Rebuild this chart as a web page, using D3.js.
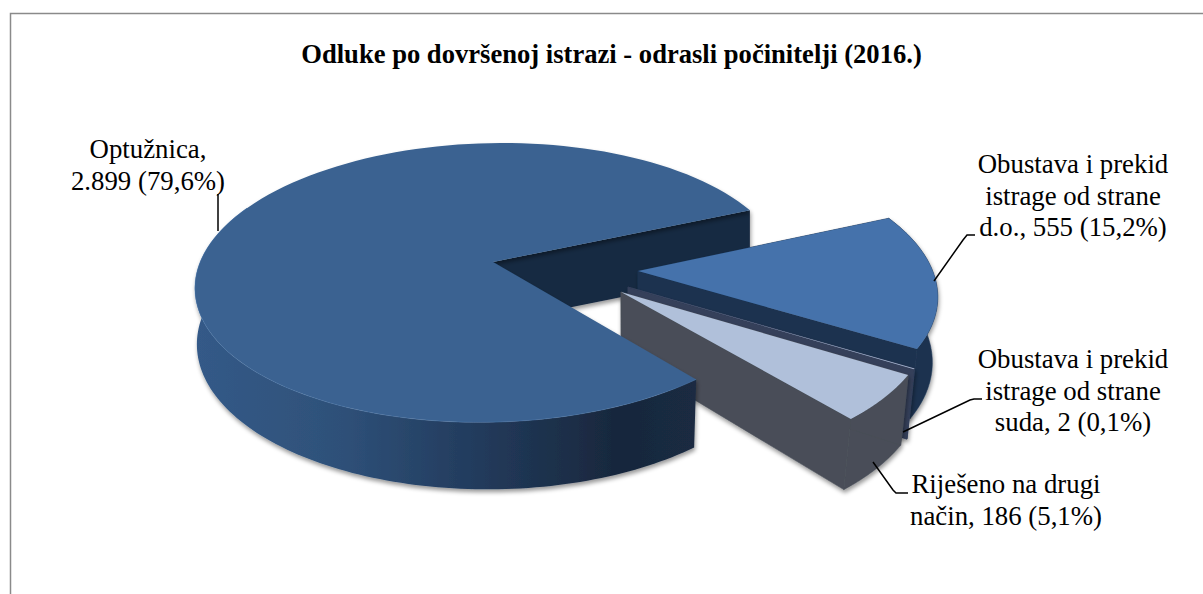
<!DOCTYPE html>
<html>
<head>
<meta charset="utf-8">
<script src="https://cdn.jsdelivr.net/npm/d3@7"></script>
<style>
    html, body { margin: 0; padding: 0; background: #fff; }
    svg { display: block; }
    text { font-family: "Liberation Serif", "Times New Roman", serif; fill: #000; }
</style>
</head>
<body>
<svg id="chart" width="1203" height="594"></svg>
<script>
const title = 'Odluke po dovršenoj istrazi - odrasli počinitelji (2016.)';
const categories = ['Optužnica', 'Obustava i prekid istrage od strane d.o.', 'Obustava i prekid istrage od strane suda', 'Riješeno na drugi način'];
const values = [2899, 555, 2, 186];
const labelLines = [
    ['Optužnica,', '2.899 (79,6%)'],
    ['Obustava i prekid', 'istrage od strane', 'd.o., 555 (15,2%)'],
    ['Obustava i prekid', 'istrage od strane', 'suda, 2 (0,1%)'],
    ['Riješeno na drugi', 'način, 186 (5,1%)']
];
const topColors = ['#3a6291', '#4472ab', '#aab9d4', '#b0c0da'];
const sideColors = ['url(#mainSide)', '#1b3250', '#343f5a', '#484e58'];

// first slice rotation (clockwise from 12 o'clock)
const firstAngle = 145 * Math.PI / 180;

const svg = d3.select('#chart');

// frame, only top and left sides show
svg.append('path')
    .attr('d', 'M10.5,594V13.5H1203')
    .attr('fill', 'none')
    .attr('stroke', '#8a8a8a')
    .attr('stroke-width', 1.5);

// 4 point perspective fit of the pie plane
function solve(a, b) {
    const n = b.length;
    const m = a.map((row, i) => [...row, b[i]]);
    for (let i = 0; i < n; i++) {
        let p = i;
        for (let r = i + 1; r < n; r++) if (Math.abs(m[r][i]) > Math.abs(m[p][i])) p = r;
        [m[i], m[p]] = [m[p], m[i]];
        for (let r = 0; r < n; r++) {
            if (r === i) continue;
            const f = m[r][i] / m[i][i];
            for (let c = i; c <= n; c++) m[r][c] -= f * m[i][c];
        }
    }
    return m.map((row, i) => row[n] / row[i]);
}

function homography(pairs) {
    const a = [], b = [];
    for (const [[u, v], [x, y]] of pairs) {
        a.push([u, v, 1, 0, 0, 0, -u * x, -v * x]); b.push(x);
        a.push([0, 0, 0, u, v, 1, -u * y, -v * y]); b.push(y);
    }
    return [...solve(a, b), 1];
}

const apply = (h, [u, v]) => {
    const w = h[6] * u + h[7] * v + h[8];
    return [(h[0] * u + h[1] * v + h[2]) / w, (h[3] * u + h[4] * v + h[5]) / w];
};

function invert(h) {
    const [a, b, c, d, e, f, g, i, j] = h;
    return [e * j - f * i, c * i - b * j, b * f - c * e,
            f * g - d * j, a * j - c * g, c * d - a * f,
            d * i - e * g, b * g - a * i, a * e - b * d];
}

const unit = (deg) => { const t = deg * Math.PI / 180; return [Math.sin(t), -Math.cos(t)]; };

const topH = homography([
    [unit(145), [695, 379]],
    [unit(325), [330, 168]],
    [unit(71.6), [749, 210]],
    [unit(251.6), [202, 320]]
]);
const bottomH = homography([
    [unit(145), [693, 447]],
    [unit(325), [330, 220]],
    [unit(71.6), [749, 271]],
    [unit(251.6), [205, 380]]
]);
const topInv = invert(topH);

// pulled out slices, where each tip lands on screen and how far the rim reaches
const tips = [[493, 262], [638, 271], [628, 287], [621, 292]];
const radii = [1, 1, 1.01, 1.01];
const shifts = tips.map((t) => apply(topInv, t));

const pie = d3.pie().sort(null).startAngle(firstAngle).endAngle(firstAngle + 2 * Math.PI);
const arcs = pie(values);

const planePoint = (i, ang) => [shifts[i][0] + radii[i] * Math.sin(ang), shifts[i][1] - radii[i] * Math.cos(ang)];
const topPt = (i, ang) => apply(topH, planePoint(i, ang));
const botPt = (i, ang) => apply(bottomH, planePoint(i, ang));
const tipTop = (i) => apply(topH, shifts[i]);
const tipBot = (i) => apply(bottomH, shifts[i]);

const line = d3.line();
const steps = (a0, a1) => d3.range(0, 121).map((k) => a0 + (a1 - a0) * k / 120);

const topPath = (i) => line([tipTop(i), ...steps(arcs[i].startAngle, arcs[i].endAngle).map((a) => topPt(i, a))]) + 'Z';
const wallPath = (i, a0 = arcs[i].startAngle, a1 = arcs[i].endAngle) => {
    const s = steps(a0, a1);
    return line([...s.map((a) => topPt(i, a)), ...s.slice().reverse().map((a) => botPt(i, a))]) + 'Z';
};
const cutPath = (i, ang) => line([tipTop(i), topPt(i, ang), botPt(i, ang), tipBot(i)]) + 'Z';

const defs = svg.append('defs');
const grad = defs.append('linearGradient')
    .attr('id', 'mainSide')
    .attr('gradientUnits', 'userSpaceOnUse')
    .attr('x1', 194).attr('x2', 695).attr('y1', 0).attr('y2', 0);
[[0, '#345a88'], [0.3, '#2e5078'], [0.55, '#233c5e'], [0.85, '#18273c'], [1, '#1a2b42']]
    .forEach(([o, c]) => grad.append('stop').attr('offset', o).attr('stop-color', c));

const shadow = defs.append('filter')
    .attr('id', 'shadow')
    .attr('x', '-10%').attr('y', '-10%').attr('width', '120%').attr('height', '125%');
shadow.append('feDropShadow')
    .attr('dx', 1).attr('dy', 3).attr('stdDeviation', 2)
    .attr('flood-color', '#000').attr('flood-opacity', 0.4);

const back = svg.append('g').attr('filter', 'url(#shadow)');
// inner cut of the big slice sits behind the pulled out ones
back.append('path').attr('d', cutPath(0, arcs[0].endAngle)).attr('fill', '#182b42');

const slices = svg.append('g');
for (const i of [1, 2, 3]) {
    const g = slices.append('g').attr('filter', 'url(#shadow)');
    // hairline stroke hides the seam between the faces
    g.append('path').attr('d', wallPath(i)).attr('fill', sideColors[i]).attr('stroke', sideColors[i]).attr('stroke-width', 0.6);
    g.append('path').attr('d', cutPath(i, arcs[i].startAngle)).attr('fill', sideColors[i]).attr('stroke', sideColors[i]).attr('stroke-width', 0.6);
    g.append('path').attr('d', cutPath(i, arcs[i].endAngle)).attr('fill', sideColors[i]).attr('stroke', sideColors[i]).attr('stroke-width', 0.6);
    g.append('path').attr('d', topPath(i)).attr('fill', topColors[i]);
}

// only the front part of the big rim can be seen
const frontEnd = 300 * Math.PI / 180;
const front = svg.append('g').attr('filter', 'url(#shadow)');
front.append('path').attr('d', wallPath(0, arcs[0].startAngle, frontEnd)).attr('fill', sideColors[0]);
front.append('path').attr('d', topPath(0)).attr('fill', topColors[0]);
front.append('path')
    .attr('d', line(steps(arcs[0].startAngle, frontEnd).map((a) => topPt(0, a))))
    .attr('fill', 'none')
    .attr('stroke', '#5a88bd')
    .attr('stroke-opacity', 0.35);

// leaders
const leaders = [
    [[218, 194], [218, 231]],
    [[934, 281], [963, 240], [967, 235], [975, 235]],
    [[903, 432], [970, 400], [974, 399], [982, 399]],
    [[873, 462], [893, 490], [896, 493], [908, 493]]
];
svg.append('g').selectAll('path')
    .data(leaders)
    .join('path')
    .attr('d', (d) => line(d))
    .attr('fill', 'none')
    .attr('stroke', '#000')
    .attr('stroke-width', 1.5);

// labels
const labelPos = [[148, 158], [1073, 173], [1073, 368], [1006, 493]];
const lineHeight = 31.5;
svg.append('g').selectAll('text')
    .data(labelLines)
    .join('text')
    .attr('text-anchor', 'middle')
    .attr('font-size', 26.8)
    .each(function (d, i) {
        d3.select(this).selectAll('tspan')
            .data(d)
            .join('tspan')
            .attr('x', labelPos[i][0])
            .attr('y', (_, k) => labelPos[i][1] + k * lineHeight)
            .text((s) => s);
    });

svg.append('text')
    .attr('x', 611.5)
    .attr('y', 63)
    .attr('text-anchor', 'middle')
    .attr('font-size', 26.6)
    .attr('font-weight', 'bold')
    .text(title);
</script>
</body>
</html>
